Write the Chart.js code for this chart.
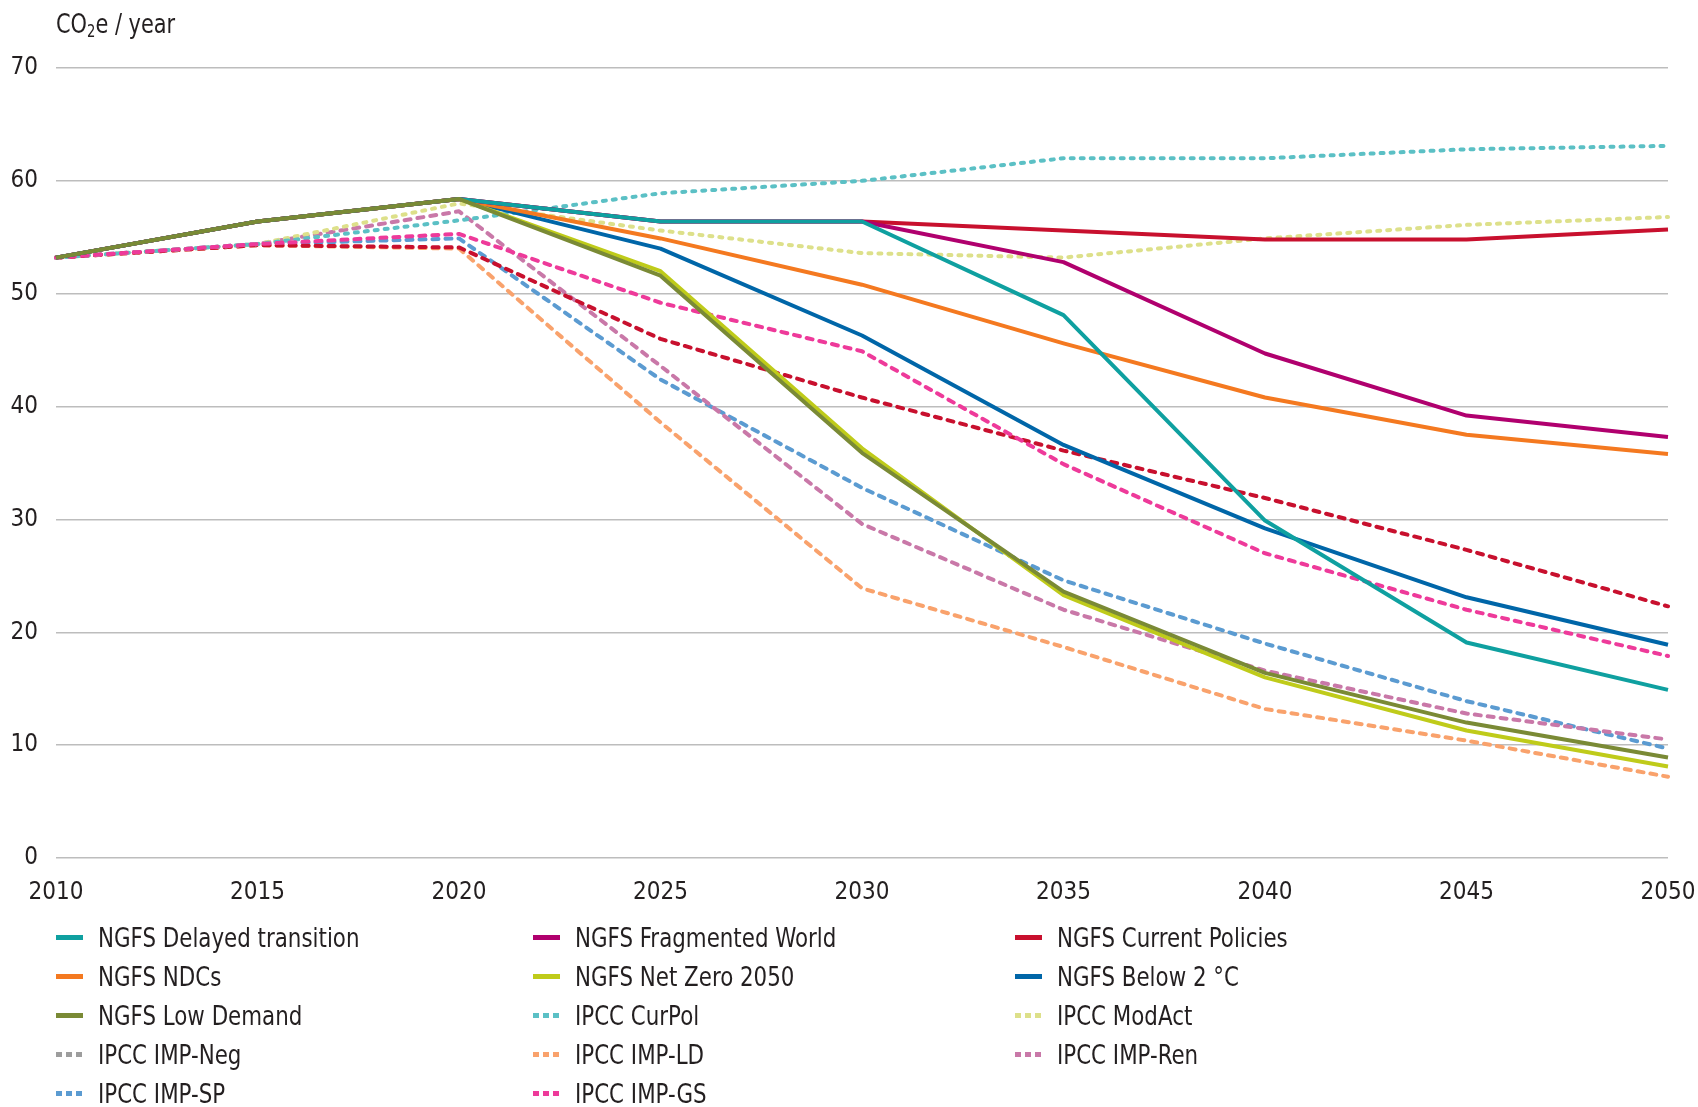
<!DOCTYPE html>
<html>
<head>
<meta charset="utf-8">
<script src="https://cdn.jsdelivr.net/npm/chart.js@4.4.1/dist/chart.umd.min.js"></script>
<style>
  body { margin: 0; background: #fff; width: 1698px; height: 1107px; overflow: hidden; position: relative; }
  #chart { position: absolute; left: 0; top: 0; }
  .cond { font-family: 'DejaVu Sans Condensed', 'Liberation Sans Narrow', 'Liberation Sans', sans-serif; color: #231f20; }
  #unit { position: absolute; left: 56px; top: 8px; font-size: 27px; transform: scaleX(0.86); transform-origin: left top; white-space: nowrap; }
  #unit sub { font-size: 17px; vertical-align: -4px; }
  #legend { position: absolute; left: 56px; top: 918px; display: grid; grid-template-columns: 477px 482px 400px; }
  .item { height: 39px; display: flex; align-items: center; font-size: 27px; white-space: nowrap; }
  .item .txt { display: inline-block; transform: scaleX(0.88); transform-origin: left center; }
  .mark { width: 27px; height: 5px; margin-right: 15px; flex: none; }
</style>
</head>
<body>
<canvas id="chart" width="1698" height="920"></canvas>
<div id="unit" class="cond">CO<sub>2</sub>e / year</div>
<div id="legend" class="cond"></div>
<script>
// DATA
const years = ["2010", "2015", "2020", "2025", "2030", "2035", "2040", "2045", "2050"];
const yTicks = [0, 10, 20, 30, 40, 50, 60, 70];

const ngfsDelayed    = [53.2, 56.4, 58.4, 56.4, 56.4, 48.1, 29.9, 19.1, 14.9];
const ngfsFragmented = [53.2, 56.4, 58.4, 56.4, 56.4, 52.8, 44.7, 39.2, 37.3];
const ngfsCurrent    = [53.2, 56.4, 58.4, 56.4, 56.4, 55.6, 54.8, 54.8, 55.7];
const ngfsNDCs       = [53.2, 56.4, 58.4, 54.9, 50.8, 45.6, 40.8, 37.5, 35.8];
const ngfsNetZero    = [53.2, 56.4, 58.4, 52.0, 36.3, 23.3, 16.0, 11.3, 8.1];
const ngfsBelow2     = [53.2, 56.4, 58.4, 54.0, 46.3, 36.6, 29.2, 23.1, 18.9];
const ngfsLowDemand  = [53.2, 56.4, 58.4, 51.6, 35.9, 23.6, 16.4, 12.0, 8.9];
const ipccCurPol     = [53.2, 54.4, 56.5, 58.9, 60.0, 62.0, 62.0, 62.8, 63.1];
const ipccModAct     = [53.2, 54.4, 58.0, 55.6, 53.6, 53.2, 54.9, 56.1, 56.8];
const ipccImpNeg     = [53.2, 54.3, 54.1, 46.0, 40.8, 36.1, 31.9, 27.3, 22.3];
const ipccImpLD      = [53.2, 54.3, 54.0, 38.6, 23.9, 18.7, 13.2, 10.4, 7.2];
const ipccImpRen     = [53.2, 54.4, 57.3, 43.6, 29.6, 22.0, 16.6, 12.8, 10.5];
const ipccImpSP      = [53.2, 54.4, 54.9, 42.4, 32.8, 24.6, 19.0, 13.9, 9.7];
const ipccImpGS      = [53.2, 54.4, 55.3, 49.2, 44.9, 34.9, 27.0, 22.0, 17.9];

// SERIES STYLE
const solid = [];
const dash = [6, 7];
const dot = [3, 7];
const series = [
  { label: "NGFS Delayed transition", data: ngfsDelayed, color: "#0fa0a0", dash: solid, order: 1 },
  { label: "NGFS Fragmented World", data: ngfsFragmented, color: "#b0006e", dash: solid, order: 1 },
  { label: "NGFS Current Policies", data: ngfsCurrent, color: "#c8102e", dash: solid, order: 1 },
  { label: "NGFS NDCs", data: ngfsNDCs, color: "#f47920", dash: solid, order: 1 },
  { label: "NGFS Net Zero 2050", data: ngfsNetZero, color: "#bfcb1a", dash: solid, order: 1 },
  { label: "NGFS Below 2 °C", data: ngfsBelow2, color: "#0066a8", dash: solid, order: 1 },
  { label: "NGFS Low Demand", data: ngfsLowDemand, color: "#7a8a35", dash: solid, order: 0 },
  { label: "IPCC CurPol", data: ipccCurPol, color: "#5bc0c5", dash: dot, order: 3 },
  { label: "IPCC ModAct", data: ipccModAct, color: "#dde08a", dash: dot, order: 3 },
  { label: "IPCC IMP-Neg", data: ipccImpNeg, color: "#c8102e", dash: dash, order: 3, legendColor: "#9d9d9d" },
  { label: "IPCC IMP-LD", data: ipccImpLD, color: "#f9a26c", dash: dash, order: 3 },
  { label: "IPCC IMP-Ren", data: ipccImpRen, color: "#c978a8", dash: dash, order: 3 },
  { label: "IPCC IMP-SP", data: ipccImpSP, color: "#5b9bd1", dash: dash, order: 3 },
  { label: "IPCC IMP-GS", data: ipccImpGS, color: "#ee3a9a", dash: dash, order: 2 },
];

const FONT = "'DejaVu Sans Condensed', 'Liberation Sans Narrow', 'Liberation Sans', sans-serif";

const data = {
  labels: years,
  datasets: series.map((s) => ({
    label: s.label,
    data: s.data,
    borderColor: s.color,
    backgroundColor: s.color,
    borderWidth: 4,
    borderDash: s.dash,
    borderCapStyle: s.dash.length ? "round" : "butt",
    borderJoinStyle: "round",
    pointRadius: 0,
    tension: 0,
    order: s.order,
  })),
};

// CONFIG
const config = {
  type: "line",
  data: data,
  options: {
    responsive: false,
    animation: false,
    layout: { padding: { top: 68, right: 30, left: 0, bottom: 0 } },
    scales: {
      x: {
        offset: false,
        grid: { display: false },
        border: { display: false },
        ticks: { color: "#231f20", font: { family: FONT, size: 24 }, padding: 12, maxRotation: 0 },
        afterFit: (scale) => {
          scale.height = 62;
          scale.paddingLeft = 0;
          scale.paddingRight = 0;
        },
      },
      y: {
        min: 0,
        max: 70,
        afterBuildTicks: (scale) => { scale.ticks = yTicks.map((v) => ({ value: v })); },
        grid: { color: "#bdbdbd", lineWidth: 1.5, drawTicks: false },
        border: { display: false },
        ticks: { color: "#231f20", font: { family: FONT, size: 24 }, padding: 18 },
        afterFit: (scale) => { scale.width = 56; },
      },
    },
    plugins: {
      legend: { display: false },
      tooltip: { enabled: false },
    },
  },
};

// RENDER INIT
const chart = new Chart(document.getElementById("chart"), config);

// HTML legend in three columns
const legendBox = document.getElementById("legend");
series.forEach((s) => {
  const item = document.createElement("div");
  item.className = "item";
  const mark = document.createElement("span");
  mark.className = "mark";
  const c = s.legendColor || s.color;
  if (s.dash.length) {
    mark.style.background = `repeating-linear-gradient(90deg, ${c} 0 6px, transparent 6px 10px)`;
  } else {
    mark.style.background = c;
  }
  const txt = document.createElement("span");
  txt.className = "txt";
  txt.textContent = s.label;
  item.appendChild(mark);
  item.appendChild(txt);
  legendBox.appendChild(item);
});
</script>
</body>
</html>
